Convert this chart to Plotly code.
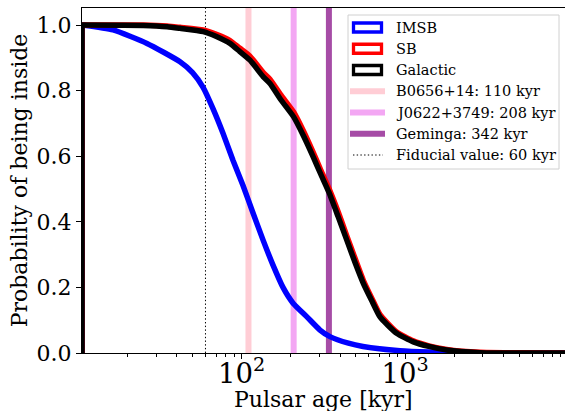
import plotly.graph_objects as go

# ---------------- data ----------------
imsb_age = [10.52, 16.3, 26.3, 41.9, 50.0, 58.0, 66.7, 76.8, 88.4, 102, 117.3, 135, 155.5,
            179, 206.3, 250, 301.6, 347, 450, 553, 931, 1420, 2880, 9600]
imsb_prob = [1.0, 0.985, 0.944, 0.888, 0.855, 0.81, 0.745, 0.67, 0.588, 0.51, 0.427, 0.345, 0.268,
             0.20, 0.152, 0.111, 0.07, 0.05, 0.03, 0.02, 0.007, 0.003, 0.0005, 0.0]

gal_age = [10.52, 25, 35, 41.9, 58.2, 70, 84.8, 97, 112.4, 135.6, 149, 175, 208, 240, 274, 305,
           342, 390, 439.5, 495, 555.5, 625, 703, 889, 1124, 1400, 1800, 2880, 5000, 9600]
sb_prob = [1.0, 1.0, 0.997, 0.993, 0.985, 0.972, 0.953, 0.93, 0.905, 0.855, 0.835, 0.785, 0.735,
           0.675, 0.612, 0.558, 0.502, 0.43, 0.358, 0.288, 0.222, 0.168, 0.117, 0.064, 0.037, 0.022,
           0.011, 0.002, 0.0004, 0.0]
gal_prob = [1.0, 0.999, 0.995, 0.99, 0.98, 0.965, 0.944, 0.92, 0.893, 0.842, 0.822, 0.77, 0.72,
            0.66, 0.598, 0.545, 0.49, 0.415, 0.345, 0.275, 0.2125, 0.16, 0.11, 0.06, 0.034, 0.02,
            0.009, 0.001, 0.0002, 0.0]

pulsar_names = ["B0656+14", "J0622+3749", "Geminga"]
pulsar_ages = [110, 208, 342]
pulsar_colors = ["rgba(255,192,203,0.8)", "rgba(238,130,238,0.7)", "rgba(128,0,128,0.7)"]
fiducial_age = 60

hist_names = ["IMSB", "SB", "Galactic"]
hist_colors = ["#0000ff", "#ff0000", "#000000"]

y_ticks = [0.0, 0.2, 0.4, 0.6, 0.8, 1.0]

x_title = "Pulsar age [kyr]"
y_title = "Probability of being inside"

# ---------------- figure ----------------
FONT = "DejaVu Serif"
W_FIG, H_FIG = 565, 411
L, T, B, R = 82, 8, 58, 0
PW, PH = W_FIG - L - R, H_FIG - T - B
DOT = "1.4px,2.3px"


def px(x):
    return (x - L) / PW


def py(y):
    return (H_FIG - B - y) / PH


fig = go.Figure()

# pulsar age markers (below curves)
for name, age, col in zip(pulsar_names, pulsar_ages, pulsar_colors):
    fig.add_trace(go.Scatter(x=[age, age], y=[0, 1.2], mode="lines",
                             line=dict(color=col, width=6), showlegend=False, hoverinfo="skip"))
fig.add_trace(go.Scatter(x=[fiducial_age, fiducial_age], y=[0, 1.2], mode="lines",
                         line=dict(color="black", width=1, dash=DOT), showlegend=False,
                         hoverinfo="skip"))

for name, xs, ys, col in zip(hist_names, [imsb_age, gal_age, gal_age],
                             [imsb_prob, sb_prob, gal_prob], hist_colors):
    # step-histogram left edge
    fig.add_trace(go.Scatter(x=[xs[0], xs[0]], y=[0, ys[0]], mode="lines",
                             line=dict(color=col, width=5.5), showlegend=False,
                             hoverinfo="skip"))
    fig.add_trace(go.Scatter(x=xs, y=ys, mode="lines", name=name,
                             line=dict(color=col, width=5.5, shape="spline", smoothing=0.5),
                             showlegend=False))

# ---------------- custom legend (matplotlib style) ----------------
shapes = []
annotations = []
shapes.append(dict(type="rect", xref="paper", yref="paper",
                   x0=px(348), x1=px(559), y0=py(169), y1=py(15),
                   line=dict(color="#d0d0d0", width=1), fillcolor="rgba(255,255,255,0.8)",
                   layer="above"))
row0, drow = 27.5, 21.25
labels = []
row = 0
for name, col in zip(hist_names, hist_colors):
    yc = row0 + row * drow
    shapes.append(dict(type="rect", xref="paper", yref="paper",
                       x0=px(353.5), x1=px(381.5), y0=py(yc + 4.5), y1=py(yc - 4.5),
                       line=dict(color=col, width=3.3), fillcolor="rgba(0,0,0,0)", layer="above"))
    labels.append((name, yc))
    row += 1
for name, age, col in zip(pulsar_names, pulsar_ages, pulsar_colors):
    yc = row0 + row * drow
    shapes.append(dict(type="line", xref="paper", yref="paper",
                       x0=px(350), x1=px(385), y0=py(yc), y1=py(yc),
                       line=dict(color=col, width=6), layer="above"))
    labels.append((f"{name}: {age} kyr", yc))
    row += 1
yc = row0 + row * drow
shapes.append(dict(type="line", xref="paper", yref="paper",
                   x0=px(353), x1=px(383), y0=py(yc), y1=py(yc),
                   line=dict(color="black", width=1, dash=DOT), layer="above"))
labels.append((f"Fiducial value: {fiducial_age} kyr", yc))

for text, yc in labels:
    annotations.append(dict(text=text, xref="paper", yref="paper", x=px(394), y=py(yc),
                            xanchor="left", yanchor="middle", showarrow=False,
                            font=dict(family=FONT, size=14.5, color="black")))

# x-axis title (partly below the page edge, as in the reference)
annotations.append(dict(text=x_title, xref="paper", yref="paper", x=0.5, y=py(399),
                        xanchor="center", yanchor="middle", showarrow=False,
                        font=dict(family=FONT, size=22, color="black")))

fig.update_layout(
    width=W_FIG, height=H_FIG,
    margin=dict(l=L, r=R, t=T, b=B, autoexpand=False),
    paper_bgcolor="white", plot_bgcolor="white",
    font=dict(family=FONT, size=22, color="black"),
    shapes=shapes, annotations=annotations,
    showlegend=False,
)
fig.update_xaxes(
    type="log", range=[1.022, 1.022 + PW / 163.3],
    showline=True, linecolor="black", linewidth=1.2, mirror=True,
    ticks="outside", ticklen=5, tickwidth=1.2, tickcolor="black",
    dtick=1, exponentformat="power", showexponent="all",
    showgrid=False, zeroline=False,
    minor=dict(ticks="outside", ticklen=3, tickwidth=0.9, tickcolor="black", dtick="D1",
               showgrid=False),
    ticklabelstandoff=-8,
    tickfont=dict(size=22),
)
fig.update_yaxes(
    range=[0, 1.052],
    showline=True, linecolor="black", linewidth=1.2, mirror=False,
    ticks="outside", ticklen=5, tickwidth=1.2, tickcolor="black",
    tickvals=y_ticks, tickformat=".1f",
    showgrid=False, zeroline=False,
    title=dict(text=y_title, font=dict(size=22), standoff=2),
    tickfont=dict(size=22),
)

fig.write_html("out.html")
